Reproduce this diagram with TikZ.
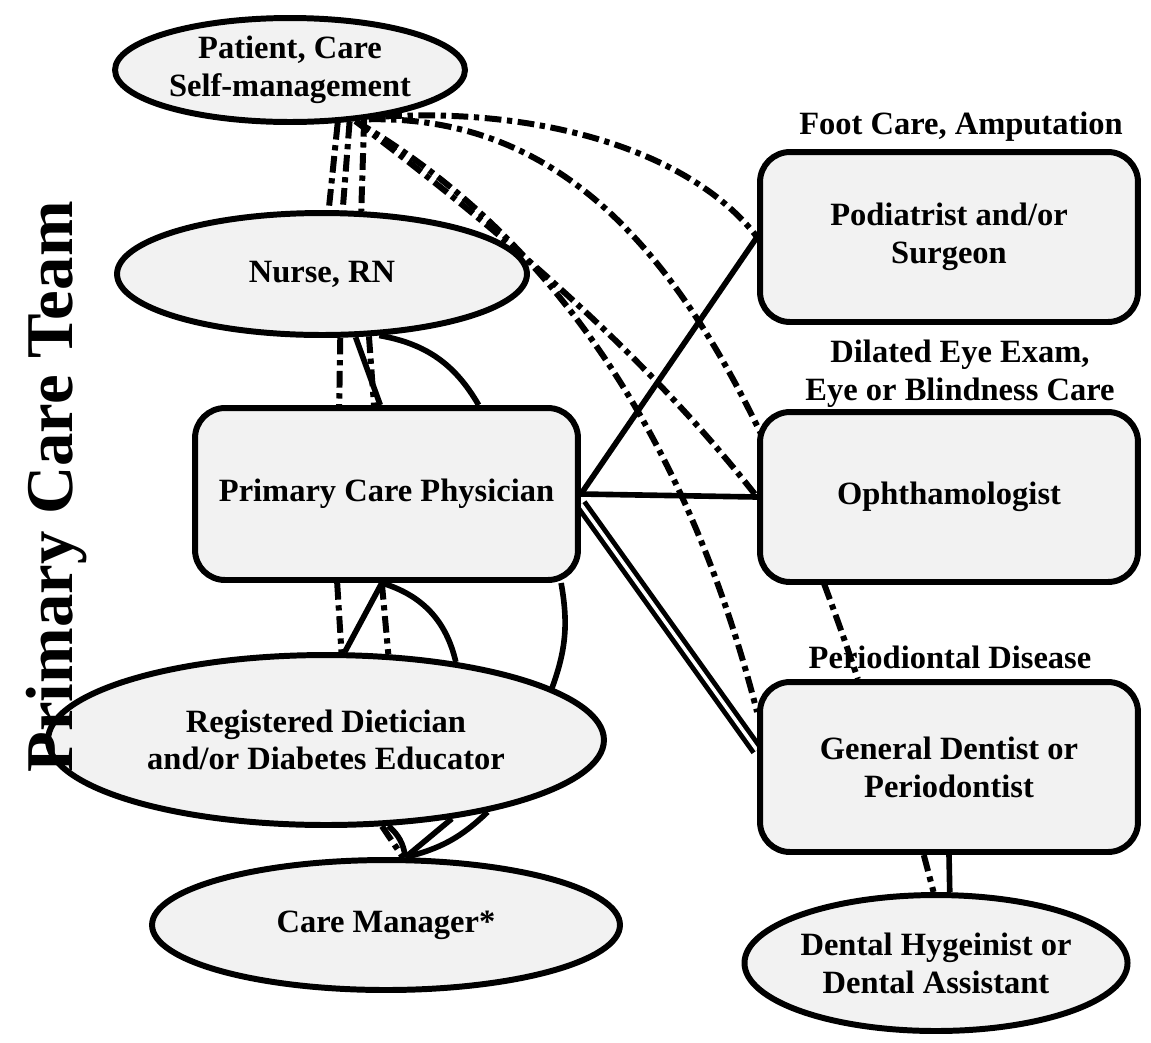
\documentclass[tikz,border=0pt]{standalone}
\usepackage{fontspec}
\setmainfont{Liberation Serif}
\usetikzlibrary{shapes.geometric, backgrounds}
\definecolor{cfill}{HTML}{F2F2F2}
\tikzset{
  every picture/.style={font=\fontsize{18.5}{21.5}\selectfont\bfseries, line width=3.4pt},
  oval/.style={ellipse, draw, fill=cfill, align=center, inner sep=0pt},
  card/.style={draw, fill=cfill, rounded corners=0.6cm, align=center, minimum width=7.56cm, minimum height=3.4cm},
  tag/.style={align=center, inner sep=0pt},
  link/.style={line width=3.2pt},
  dd/.style={line width=3.4pt, dash pattern=on 9.5pt off 3.2pt on 3pt off 3.2pt},
}

\begin{document}
\begin{tikzpicture}[x=0.02cm, y=-0.02cm]
  \useasboundingbox (0,0) rectangle (1151,1042);
  % left column
  \node[oval, minimum width=7cm, minimum height=2.08cm] (pat) at (290,70) {Patient, Care\\Self-management};
  \node[oval, minimum width=8.2cm, minimum height=2.44cm] (nur) at (322,274) {Nurse, RN};
  \node[card, minimum width=7.66cm, minimum height=3.44cm] (pcp) at (386.5,494) {Primary Care Physician};
  \node[oval, minimum width=11.12cm, minimum height=3.4cm] (diet) at (326,740) {Registered Dietician\\and/or Diabetes Educator};
  \node[oval, minimum width=9.36cm, minimum height=2.6cm] (cm) at (386,925) {Care Manager*};
  % right column
  \node[card] (pod) at (949,237) {Podiatrist and/or\\Surgeon};
  \node[card] (oph) at (949,497) {Ophthamologist};
  \node[card] (dent) at (949,767) {General Dentist or\\Periodontist};
  \node[oval, minimum width=7.6cm, minimum height=2.72cm] (hyg) at (936,963) {Dental Hygeinist or\\Dental Assistant};
  \node[tag] (footlbl) at (961,127) {Foot Care, Amputation};
  \node[tag] (eyelbl) at (960,374) {Dilated Eye Exam,\\Eye or Blindness Care};
  \node[tag] (gumlbl) at (950,657) {Periodiontal Disease};
  \node[rotate=90, font=\fontsize{38}{40}\selectfont\bfseries] (team) at (57,487) {Primary Care Team};

  \begin{scope}[on background layer]
    % patient to the team
    \draw[dd] (pat.312) -- (nur.84);
    \draw[dd] (pat.319) -- (nur.72);
    \draw[dd] (pat.326) -- (nur.58);
    \draw[dd] (pat.334) .. controls (540,108) and (690,150) .. (pod.west);
    \draw[dd] (pat.328) .. controls (610,115) and (740,330) .. (dent.136);
    \draw[dd] (pat.322) .. controls (490,223) and (640,347) .. (oph.west);
    \draw[dd] (pat.322) .. controls (560,240) and (690,450) .. (dent.164);
    % nurse and physician
    \draw[dd] (nur.286.5) -- (pcp.118.4);
    \draw[link] (nur.298.7) -- (pcp.94.3);
    \draw[dd] (nur.307.1) -- (pcp.98.3);
    \draw[link] (nur.313.1) to[bend left=25] (pcp.44.8);
    % physician and dietician
    \draw[dd] (pcp.241.6) -- (diet.80.6);
    \draw[link] (pcp.267) -- (diet.78.7);
    \draw[dd] (pcp.267.7) -- (diet.54.6);
    \draw[link] (pcp.267) to[bend left=30] (diet.31);
    \draw[link] (pcp.333.5) to[bend left=15] (diet.13);
    % dietician and care manager
    \draw[link] (diet.306) to[bend left=20] (cm.74);
    \draw[dd] (diet.303) -- (cm.76);
    \draw[link] (diet.328) -- (cm.74);
    \draw[link] (diet.336) to[bend left=15] (cm.74);
    % physician to specialists
    \draw[link] (pcp.east) -- (pod.west);
    \draw[link] (pcp.east) -- (oph.west);
    \draw[link, double, double distance=2pt, line width=2.8pt] (pcp.357) -- (dent.175);
    % dentist and hygienist
    \draw[link] (dent.south) -- (hyg.79);
    \draw[dd] (dent.254) -- (hyg.92);
  \end{scope}
\end{tikzpicture}
\end{document}
